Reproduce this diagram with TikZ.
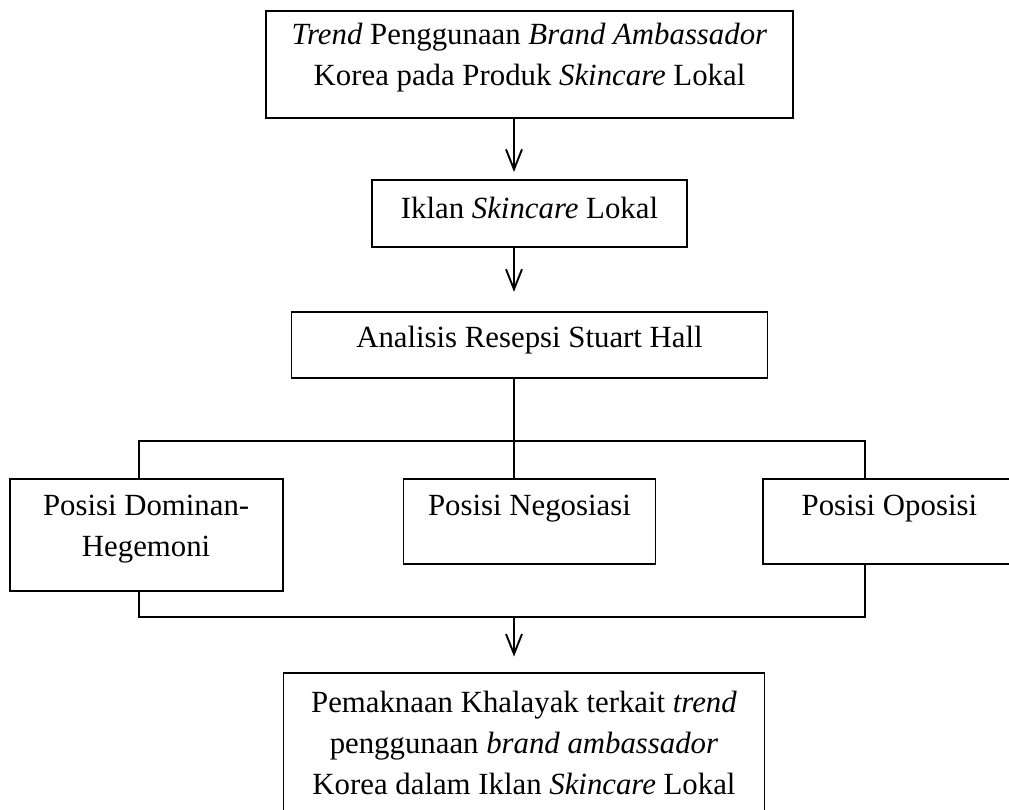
\documentclass[tikz,border=0pt]{standalone}
\usepackage{fontspec}
\setmainfont{Liberation Serif}
\usetikzlibrary{positioning,arrows.meta}

\begin{document}
\begin{tikzpicture}[
  node distance=30pt,
  box/.style={draw, line width=0.95pt, inner xsep=0pt, inner ysep=0pt, align=center, anchor=north, font=\fontsize{15.4}{20.5}\selectfont},
  arr/.style={-{Straight Barb[length=10pt, width=8pt]}, line width=0.95pt},
  link/.style={line width=0.95pt}
]
\useasboundingbox (0,0) rectangle (504.5pt,-405pt);
\clip (0,0) rectangle (504.5pt,-405pt);

\node[box, minimum width=263.5pt, text height=37.5pt, text depth=16pt] (trend) at (264.75pt,-5pt) {\textit{Trend} Penggunaan \textit{Brand Ambassador}\\Korea pada Produk \textit{Skincare} Lokal};
\node[box, below=30pt of trend, minimum width=157.5pt, text height=19.5pt, text depth=14pt] (iklan) {Iklan \textit{Skincare} Lokal};
\node[box, below=31.5pt of iklan, minimum width=238pt, text height=18pt, text depth=15pt] (analisis) {Analisis Resepsi Stuart Hall};
\node[box, below=49.5pt of analisis, minimum width=126pt, text height=18.5pt, text depth=24pt] (negosiasi) {Posisi Negosiasi};
\node[box, anchor=north east, minimum width=136.5pt, text height=39pt, text depth=17pt] (dominan) at ([xshift=-59.5pt]negosiasi.north west) {Posisi Dominan-\\Hegemoni};
\node[box, anchor=north west, minimum width=126pt, text height=18.5pt, text depth=24pt] (oposisi) at ([xshift=53pt]negosiasi.north east) {Posisi Oposisi};
\node[box, below=53.5pt of negosiasi, xshift=-2.75pt, minimum width=240.5pt, text height=61pt, text depth=19pt] (pemaknaan) {Pemaknaan Khalayak terkait \textit{trend}\\penggunaan \textit{brand ambassador}\\Korea dalam Iklan \textit{Skincare} Lokal};

% columns and rails of the tree
\coordinate (spine) at (257pt,0);
\coordinate (colL) at (69.5pt,0);
\coordinate (colR) at (432.5pt,0);
\coordinate (bus) at (0,-220.5pt);
\coordinate (join) at (0,-308.5pt);

\draw[arr, shorten >=3.5pt] (trend.south -| spine) -- (iklan.north -| spine);
\draw[arr, shorten >=9.5pt] (iklan.south -| spine) -- (analisis.north -| spine);
\draw[link] (analisis.south -| spine) -- (negosiasi.north -| spine);
\draw[link] (dominan.north -| colL) -- (bus -| colL) -- (bus -| colR) -- (oposisi.north -| colR);
\draw[link] (dominan.south -| colL) -- (join -| colL) -- (join -| colR) -- (oposisi.south -| colR);
\draw[arr, shorten >=7.5pt] (join -| spine) -- (pemaknaan.north -| spine);
\end{tikzpicture}
\end{document}
